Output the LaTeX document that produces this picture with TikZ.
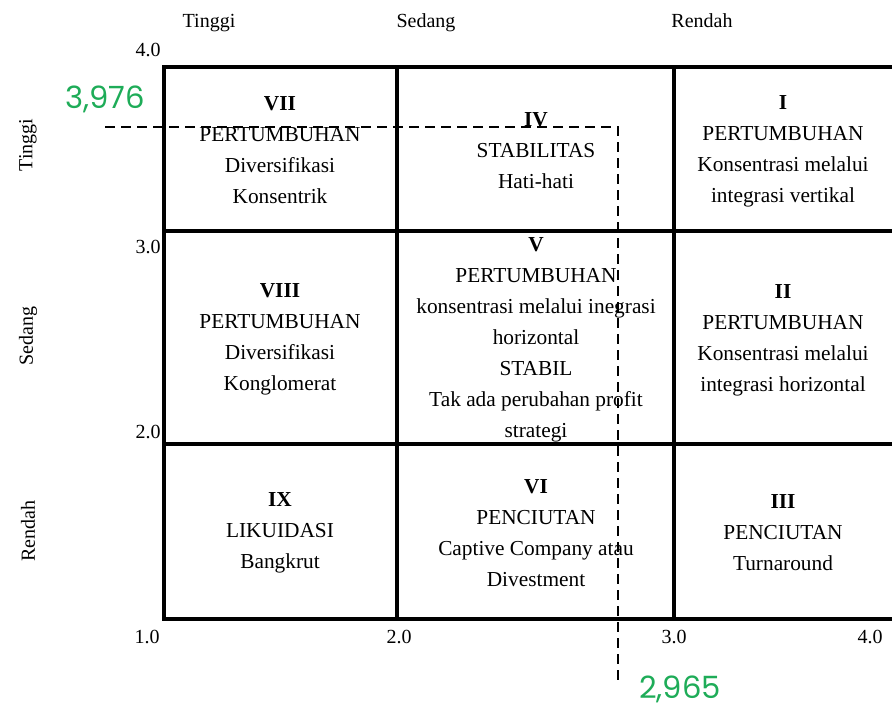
\documentclass[tikz,border=0pt]{standalone}
\usepackage{fontspec}
\setmainfont{Liberation Serif}
\newfontfamily\numfont{Poppins}
\definecolor{valgreen}{RGB}{30,172,88}
\begin{document}
\begin{tikzpicture}[x=0.75pt,y=-0.75pt,
  gridline/.style={line width=2.5pt,line cap=rect},
  guide/.style={line width=1.9pt,dashed,dash pattern=on 7.5pt off 4.5pt},
  cell/.style={align=center,inner sep=0pt,font=\fontsize{16}{23.25}\selectfont},
  axislbl/.style={inner sep=0pt,font=\fontsize{15}{18}\selectfont},
  ticklbl/.style={inner sep=0pt,font=\fontsize{15}{18}\selectfont},
  valuelbl/.style={inner sep=0pt,text=valgreen,font=\numfont\fontsize{23}{27}\selectfont}]
\useasboundingbox (0,0) rectangle (892,707);

% grid of nine cells
\draw[gridline] (892,67) -- (164,67) -- (164,619) -- (892,619);
\draw[gridline] (164,231) -- (892,231);
\draw[gridline] (164,444) -- (892,444);
\draw[gridline] (397,67) -- (397,619);
\draw[gridline] (674,67) -- (674,619);

% column headings
\node[axislbl] (hT) at (209,23) {Tinggi};
\node[axislbl] (hS) at (426,23) {Sedang};
\node[axislbl] (hR) at (702,21) {Rendah};

% row headings
\node[axislbl,rotate=90] (rT) at (28,145) {Tinggi};
\node[axislbl,rotate=90] (rS) at (28,336) {Sedang};
\node[axislbl,rotate=90] (rR) at (28,531) {Rendah};

% scale values
\node[ticklbl,anchor=east] (y4) at (161,50) {4.0};
\node[ticklbl,anchor=east] (y3) at (161,247) {3.0};
\node[ticklbl,anchor=east] (y2) at (161,432) {2.0};
\node[ticklbl] (x1) at (147,637) {1.0};
\node[ticklbl] (x2) at (399,637) {2.0};
\node[ticklbl] (x3) at (674,637) {3.0};
\node[ticklbl] (x4) at (870,637) {4.0};

% cell texts
\node[cell] (c7) at (280,150) {\textbf{VII}\\PERTUMBUHAN\\Diversifikasi\\Konsentrik};
\node[cell] (c4) at (536,151) {\textbf{IV}\\STABILITAS\\Hati-hati};
\node[cell] (c1) at (783,151) {\textbf{I}\\PERTUMBUHAN\\Konsentrasi melalui\\integrasi vertikal};
\node[cell] (c8) at (280,339) {\textbf{VIII}\\PERTUMBUHAN\\Diversifikasi\\Konglomerat};
\node[cell] (c5) at (536,340) {\textbf{V}\\PERTUMBUHAN\\konsentrasi melalui inegrasi\\horizontal\\STABIL\\Tak ada perubahan profit\\strategi};
\node[cell] (c2) at (783,340) {\textbf{II}\\PERTUMBUHAN\\Konsentrasi melalui\\integrasi horizontal};
\node[cell] (c9) at (280,533) {\textbf{IX}\\LIKUIDASI\\Bangkrut};
\node[cell] (c6) at (536,533) {\textbf{VI}\\PENCIUTAN\\Captive Company atau\\Divestment};
\node[cell] (c3) at (783,533) {\textbf{III}\\PENCIUTAN\\Turnaround};

% position guides
\coordinate (gL) at (105,127);
\coordinate (gC) at (618,127);
\coordinate (gB) at (618,685);
\draw[guide] (gL) -- (gC) -- (gB);

\node[valuelbl] (vy) at (105,99) {3,976};
\node[valuelbl] (vx) at (680,689) {2,965};
\end{tikzpicture}
\end{document}
